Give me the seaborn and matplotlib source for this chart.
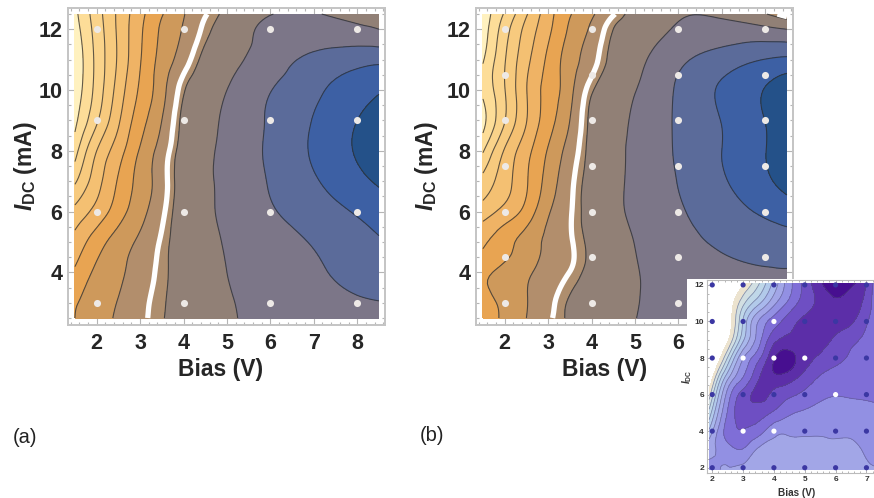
# Contour maps of a device response vs bias and DC current, with a small inset
import numpy as np
import pandas as pd
import matplotlib.pyplot as plt
import matplotlib.tri as mtri
import seaborn as sns
from matplotlib.ticker import MultipleLocator

# Panel values, one row per current (unit: contour number)
bias_grid = [1.5, 2, 2.5, 3, 3.5, 4, 4.5, 5, 6, 7, 8, 8.5]
a_current = [2.5, 3, 4, 5, 6, 7, 8, 9, 10, 11, 12, 12.5]
a_z = [
    [7, 7.57, 8.15, 8.77, 9.85, 10.29, 10.58, 10.87, 11.25, 11.5, 11.7, 11.75],
    [6.9, 7.5, 8.05, 8.72, 9.75, 10.3, 10.6, 10.9, 11.3, 11.65, 11.9, 11.97],
    [6.17, 7.19, 7.81, 8.5, 9.5, 10.31, 10.66, 11, 11.43, 11.86, 12.28, 12.45],
    [5.35, 6.53, 7.46, 8.2, 9.25, 10.35, 10.74, 11.08, 11.58, 12.07, 12.6, 12.9],
    [4.3, 5.36, 6.55, 7.65, 8.8, 10.36, 10.82, 11.21, 11.9, 12.5, 13.1, 13.45],
    [2.85, 4.59, 6.1, 7.36, 8.6, 10.31, 10.82, 11.26, 12.07, 12.89, 13.72, 14.14],
    [1.6, 4, 5.56, 7.1, 8.46, 10.26, 10.79, 11.27, 12.16, 13.13, 14.1, 14.6],
    [0.75, 2.85, 4.85, 6.58, 8, 10.15, 10.68, 11.19, 12.12, 13.05, 14, 14.5],
    [0.35, 2.36, 4.42, 6.15, 7.64, 9.8, 10.48, 11, 11.97, 12.8, 13.55, 13.9],
    [0.2, 2.27, 4.15, 5.93, 7.35, 8.57, 10.19, 10.67, 11.49, 12.25, 12.65, 12.75],
    [0.55, 2.41, 4.19, 5.81, 7.15, 8.09, 9.44, 10.34, 11.25, 11.35, 11.2, 11],
    [0.75, 2.54, 4.2, 5.68, 6.93, 7.94, 8.92, 10.16, 10.97, 11.03, 10.7, 10.6],
]
b_current = [2.5, 3, 4, 4.5, 5, 6, 7, 8, 9, 10, 11, 12, 12.5]
b_z = [
    [6.45, 7.22, 8, 8.81, 10.1, 10.39, 10.69, 10.98, 11.3, 11.4, 11.5, 11.5],
    [6.6, 7.28, 7.96, 8.7, 10.07, 10.37, 10.69, 10.95, 11.25, 11.45, 11.6, 11.6],
    [6.75, 7.33, 7.83, 8.41, 9.04, 10.19, 10.53, 10.93, 11.3, 11.6, 11.85, 11.9],
    [6.2, 6.85, 7.55, 8.23, 8.83, 10.13, 10.55, 10.97, 11.45, 11.9, 12.25, 12.3],
    [5.85, 6.62, 7.43, 8.2, 8.88, 10.16, 10.59, 11.02, 11.64, 12.2, 12.5, 12.6],
    [4.5, 5.34, 6.38, 7.87, 8.9, 10.31, 10.78, 11.18, 11.89, 12.54, 13.18, 13.5],
    [3.32, 4.58, 5.9, 7.4, 8.75, 10.26, 10.76, 11.21, 12.03, 12.87, 13.83, 14.3],
    [1.9, 4.1, 5.65, 7.08, 8.43, 10.19, 10.72, 11.21, 12.11, 13, 13.98, 14.45],
    [0.7, 2.95, 4.96, 6.56, 8, 10.15, 10.65, 11.15, 12.13, 13.03, 14.01, 14.5],
    [1.2, 2.96, 4.96, 6.39, 7.69, 9.75, 10.45, 10.96, 12.13, 13.14, 14.05, 14.6],
    [0.9, 2.92, 4.71, 6.2, 7.5, 8.63, 10.19, 10.69, 11.78, 12.46, 13.03, 13.2],
    [0.45, 2.54, 4.31, 5.76, 7.14, 8.19, 10, 10.36, 11.12, 11.35, 11.2, 11],
    [0.4, 2.11, 3.9, 5.58, 6.92, 7.85, 8.91, 10.2, 10.9, 10.85, 10.05, 8.5],
]
inset_bias = [1.9, 2.5, 3, 3.5, 4, 4.5, 5, 5.5, 6, 6.5, 7, 7.3]
inset_current = [1.9, 3, 4, 5, 6, 7, 8, 9, 10, 11, 12.1]
inset_z = [
    [7.2, 6.95, 6.6, 6.3, 6.2, 6.1, 6.1, 6.2, 6.3, 6.5, 6.85, 6.95],
    [6.7, 7.6, 7.95, 6.85, 6.7, 6.6, 6.55, 6.75, 6.8, 6.8, 7.1, 7.15],
    [5.2, 8.45, 8.95, 8.45, 7.35, 7.2, 7.2, 7.1, 7.12, 7.15, 7.2, 7.1],
    [3.35, 8.1, 9.45, 9.4, 8.85, 8.15, 7.85, 7.6, 7.5, 7.55, 7.6, 7.6],
    [1.5, 7.4, 9.4, 10.3, 9.75, 9.2, 8.75, 8.25, 8.05, 8.1, 8.15, 8.2],
    [-0.5, 5.56, 7.95, 9.82, 10.8, 10.55, 9.7, 8.95, 8.6, 8.45, 8.35, 8.3],
    [-2, 3.1, 6.94, 8.75, 10.9, 11.35, 10.45, 9.8, 9.3, 8.85, 8.6, 8.45],
    [-2, 0.8, 4.8, 7.55, 9.68, 10.3, 10.55, 10.4, 9.83, 9.27, 8.75, 8.4],
    [-2, 0.1, 4.1, 7.04, 8.5, 9.54, 10.25, 10.5, 10.45, 10.15, 9.12, 8.5],
    [-2, 0, 2.73, 4.77, 6.74, 8.3, 9.49, 10.3, 10.85, 10.55, 9.6, 8.4],
    [-2, -1, 0.8, 2.85, 5.33, 7.64, 9.37, 10.85, 11.6, 11.2, 10.03, 8.5],
]

# Sample points
a_dot_bias = [2, 4, 6, 8]
a_dot_current = [3, 6, 9, 12]
b_dot_current = [3, 4.5, 6, 7.5, 9, 10.5, 12]
inset_dot_bias = [2, 3, 4, 5, 6, 7]
inset_dot_current = [2, 4, 6, 8, 10, 12]
inset_white = [(3, 4), (4, 4), (6, 6), (3, 8), (4, 8), (5, 8), (4, 10)]

# Contours of the panels; contour_height evens out the slope across the white line
panel_levels = list(range(1, 15))
contour_height = [1, 2, 3, 4, 5, 6, 7, 8, 9, 9.5, 11.3, 13.3, 15.3, 17.3]
panel_colors = ['#FFF1BF', '#FDDD98', '#FAD38A', '#F7CA7E', '#F4C072', '#EFB365',
                '#E8A452', '#CE995B', '#B28E6C', '#AE8E6E', '#918076', '#7C7688',
                '#5B6B9A', '#3D60A4', '#245189']
inset_levels = list(range(1, 12))
inset_colors = ['#ECE3CF', '#D2DFE2', '#BFD7E8', '#B2CAEA', '#A9B8EC', '#A2A6E7',
                '#9290E3', '#7F6ED7', '#6E4FC3', '#5C2EA8', '#470F90']

sns.set_theme(style='ticks')
plt.rcParams['font.family'] = ['Liberation Sans', 'DejaVu Sans']
plt.rcParams['mathtext.fontset'] = 'custom'
plt.rcParams['mathtext.bf'] = 'Liberation Sans:bold'
plt.rcParams['mathtext.bfit'] = 'Liberation Sans:italic:bold'

W, H = 874, 498
fig = plt.figure(figsize=(W / 100, H / 100), dpi=100)


def box(left, top, right, bottom):
    return [left / W, 1 - bottom / H, (right - left) / W, (bottom - top) / H]


def smooth_field(xs, ys, z):
    # matplotlib's own cubic refiner, so the contours of the grid come out round
    X, Y = np.meshgrid(xs, ys)
    triang = mtri.Triangulation(X.ravel(), Y.ravel())
    return mtri.UniformTriRefiner(triang).refine_field(np.array(z).ravel(), subdiv=3)


def draw_panel(rect, z, current, dot_current, label_x, label_y):
    ax = fig.add_axes(rect)
    heights = np.interp(z, [-9] + panel_levels + [20], [-9] + contour_height + [29])
    fine, fine_z = smooth_field(bias_grid, current, heights)
    ax.tricontourf(fine, fine_z, levels=[-30] + contour_height + [60], colors=panel_colors)
    dark = [h for h in contour_height if h != 9]
    ax.tricontour(fine, fine_z, levels=dark, colors='#2e2e2e', linewidths=0.8, alpha=0.75)
    ax.tricontour(fine, fine_z, levels=[9], colors='white', linewidths=3.8)
    dots = pd.DataFrame([(b, c) for b in a_dot_bias for c in dot_current], columns=['bias', 'current'])
    sns.scatterplot(data=dots, x='bias', y='current', color='#EDE9E6', s=26, linewidth=0, ax=ax, zorder=4)
    ax.set_xlim(1.34, 8.64)
    ax.set_ylim(2.27, 12.7)
    ax.xaxis.set_major_locator(MultipleLocator(1))
    ax.xaxis.set_minor_locator(MultipleLocator(0.2))
    ax.yaxis.set_major_locator(MultipleLocator(2))
    ax.yaxis.set_minor_locator(MultipleLocator(0.5))
    ax.tick_params(which='both', direction='in', top=True, right=True, color='#b5b5b5', width=0.8)
    ax.tick_params(which='major', length=5)
    ax.tick_params(which='minor', length=2.5)
    ax.tick_params(axis='x', which='major', pad=6, labelsize=15.5)
    ax.tick_params(axis='y', which='major', pad=4, labelsize=15.5)
    for t in ax.get_xticklabels() + ax.get_yticklabels():
        t.set_fontweight('bold')
    for s in ax.spines.values():
        s.set_color('#c4c4c4')
        s.set_linewidth(1.4)
    ax.set_xlabel('Bias (V)', fontsize=16.5, fontweight='bold')
    ax.set_ylabel(r'$\mathbfit{I}_{\mathbf{DC}}$ (mA)', fontsize=16.5, fontweight='bold')
    ax.xaxis.set_label_coords(label_x, -0.103)
    ax.yaxis.set_label_coords(label_y, 0.5)
    return ax


draw_panel(box(68, 8, 385, 325), a_z, a_current, a_dot_current, 0.48, -0.093)
draw_panel(box(476, 8, 793, 325), b_z, b_current, b_dot_current, 0.407, -0.113)

# White patch that the inset sits on
patch = fig.add_axes(box(687, 279, 874, 498), zorder=5, facecolor='white')
patch.set_axis_off()
patch.add_patch(plt.Rectangle((0, 0), 1, 1, color='white', transform=patch.transAxes))

ins = fig.add_axes(box(706.7, 280, 880, 473), zorder=6, facecolor='white')
fine, fine_z = smooth_field(inset_bias, inset_current, inset_z)
ins.tricontourf(fine, fine_z, levels=inset_levels + [20], colors=inset_colors)
ins.tricontour(fine, fine_z, levels=inset_levels[1:], colors='#55557a', linewidths=0.55, alpha=0.6)
in_dots = pd.DataFrame([(b, c) for b in inset_dot_bias for c in inset_dot_current], columns=['bias', 'current'])
in_dots['white'] = [(b, c) in inset_white for b, c in zip(in_dots.bias, in_dots.current)]
sns.scatterplot(data=in_dots, x='bias', y='current', hue='white', palette={False: '#3B37A3', True: 'white'},
                s=14, linewidth=0, legend=False, ax=ins, zorder=4, clip_on=False)
ins.set_xlim(1.82, 7.44)
ins.set_ylim(1.71, 12.27)
ins.set_xticks(inset_dot_bias)
ins.set_yticks(inset_dot_current)
ins.xaxis.set_minor_locator(MultipleLocator(0.2))
ins.yaxis.set_minor_locator(MultipleLocator(0.5))
ins.tick_params(which='both', direction='in', top=True, right=True, color='#aaaaaa', width=0.6)
ins.tick_params(which='major', length=3, labelsize=6, pad=2, labelcolor='#333333')
ins.tick_params(which='minor', length=1.5)
for t in ins.get_xticklabels() + ins.get_yticklabels():
    t.set_fontweight('bold')
for s in ins.spines.values():
    s.set_color('#bbbbbb')
    s.set_linewidth(0.8)
ins.set_xlabel('Bias (V)', fontsize=7.2, fontweight='bold', color='#333333')
ins.set_ylabel(r'$\mathbfit{I}_{\mathbf{DC}}$', fontsize=7, color='#333333')
ins.xaxis.set_label_coords((797 - 706.7) / 173.3, -0.078)
ins.yaxis.set_label_coords((691 - 706.7) / 173.3 + 0.02, 0.5)

fig.text(13 / W, 1 - 437 / H, '(a)', fontsize=14.5, va='center', color='#222222')
fig.text(420 / W, 1 - 435 / H, '(b)', fontsize=14.5, va='center', color='#222222')

fig.savefig('out.png', dpi=100)
